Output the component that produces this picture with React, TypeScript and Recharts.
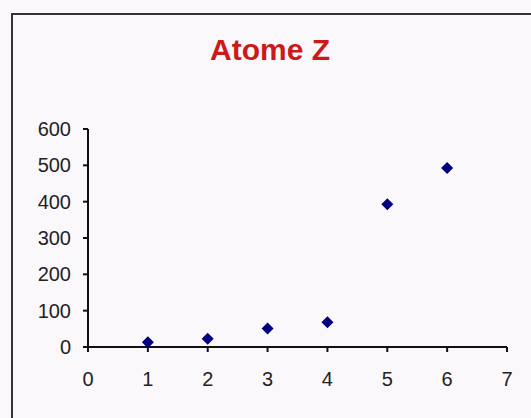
import React from 'react';
import { ScatterChart, Scatter, XAxis, YAxis } from 'recharts';

const xValues = [1, 2, 3, 4, 5, 6];
const zValues = [13, 23, 51, 68, 393, 493];
const xTicks = [0, 1, 2, 3, 4, 5, 6, 7];
const yTicks = [0, 100, 200, 300, 400, 500, 600];

const points = xValues.map((x, i) => ({ x, z: zValues[i] }));

const font = 'Liberation Sans, Arial, sans-serif';
const tickStyle = { fontSize: 20, fill: '#222', fontFamily: font };

// square diamond marker like Excel's
const Diamond = (props: any) => {
	const { cx, cy } = props;
	const r = 6;
	return <polygon points={`${cx},${cy - r} ${cx + r},${cy} ${cx},${cy + r} ${cx - r},${cy}`} fill='#000080' />;
};

const App: React.FC = () => {
	return (
		<div
			style={{
				position: 'absolute',
				left: 0,
				top: 0,
				width: 531,
				height: 418,
				background: '#fbf8fc',
				overflow: 'hidden',
			}}
		>
			{/* chart frame, cut off at right and bottom */}
			<div
				style={{
					position: 'absolute',
					left: 11,
					top: 13,
					width: 540,
					height: 430,
					borderLeft: '2px solid #333',
					borderTop: '2px solid #333',
				}}
			/>
			<div
				style={{
					position: 'absolute',
					left: 0,
					width: 540,
					top: 32,
					textAlign: 'center',
					color: '#cc1a1a',
					fontFamily: font,
					fontWeight: 'bold',
					fontSize: 30,
					lineHeight: '36px',
				}}
			>
				Atome Z
			</div>
			<div style={{ position: 'absolute', left: 0, top: 0 }}>
				<ScatterChart width={531} height={418} margin={{ top: 129, right: 24, bottom: 31, left: 28 }}>
					<XAxis
						type='number'
						dataKey='x'
						domain={[0, 7]}
						ticks={xTicks}
						tick={tickStyle}
						tickSize={5}
						tickMargin={20}
						axisLine={{ stroke: '#111', strokeWidth: 2 }}
						tickLine={{ stroke: '#111', strokeWidth: 2 }}
						height={40}
					/>
					<YAxis
						type='number'
						dataKey='z'
						domain={[0, 600]}
						ticks={yTicks}
						tick={tickStyle}
						tickSize={5}
						tickMargin={12}
						axisLine={{ stroke: '#111', strokeWidth: 2 }}
						tickLine={{ stroke: '#111', strokeWidth: 2 }}
						width={60}
					/>
					<Scatter data={points} fill='#000080' shape={Diamond} isAnimationActive={false} />
				</ScatterChart>
			</div>
		</div>
	);
};

export default App;
